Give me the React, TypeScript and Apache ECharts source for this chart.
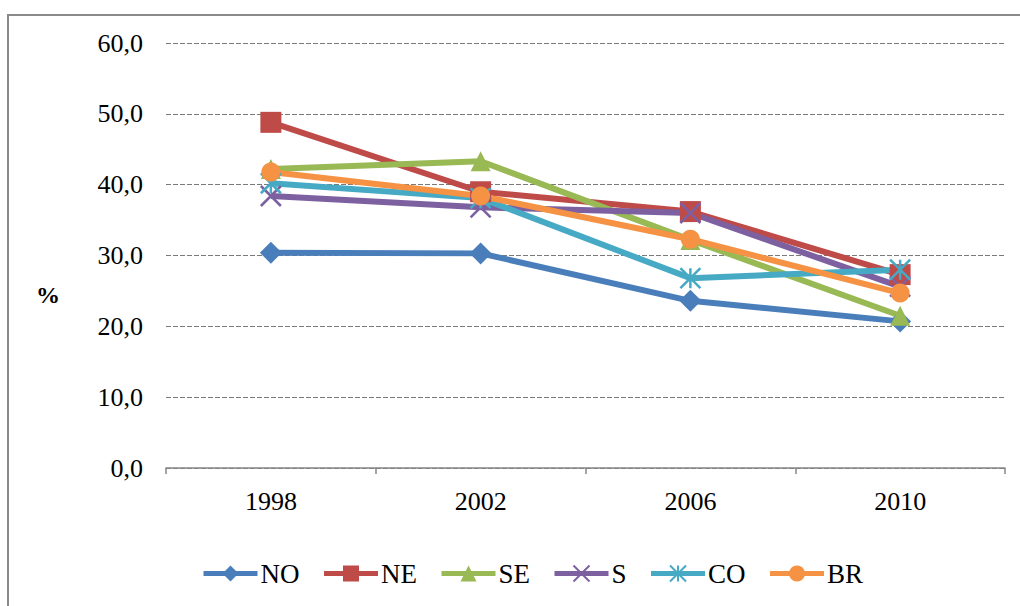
import React, { useEffect, useRef } from "react";
import * as echarts from "echarts";

const years = ["1998", "2002", "2006", "2010"];
const seriesNames = ["NO", "NE", "SE", "S", "CO", "BR"];
const valuesNO = [30.4, 30.3, 23.6, 20.7];
const valuesNE = [48.8, 39.0, 36.2, 27.3];
const valuesSE = [42.2, 43.3, 32.2, 21.5];
const valuesS = [38.4, 36.8, 36.0, 25.6];
const valuesCO = [40.2, 38.1, 26.8, 28.0];
const valuesBR = [41.8, 38.4, 32.3, 24.7];
const yTicks = [0, 10, 20, 30, 40, 50, 60];

const colors = ["#4A7EBB", "#BE4B48", "#98B954", "#7D60A0", "#46AAC5", "#F59243"];
const symbols = [
  "diamond",
  "rect",
  "triangle",
  "path://M0 0 L10 10 M10 0 L0 10",
  "path://M5 0 L5 10 M0 0 L10 10 M10 0 L0 10",
  "circle",
];
const sizes = [22, 21, 20, 20, 20, 19];
const stroked = [false, false, false, true, true, false];

const FONT = "Liberation Serif";

export default function App() {
  const ref = useRef<HTMLDivElement>(null);
  useEffect(() => {
    if (!ref.current) return;
    const chart = echarts.init(ref.current, undefined, { renderer: "svg" });
    const data = [valuesNO, valuesNE, valuesSE, valuesS, valuesCO, valuesBR];
    chart.setOption({
      animation: false,
      backgroundColor: "#ffffff",
      grid: { left: 166, right: 15, top: 43, bottom: 138, containLabel: false },
      legend: {
        bottom: 14,
        left: 196,
        itemWidth: 54,
        itemHeight: 20,
        itemGap: 22,
        lineStyle: { width: 5 },
        textStyle: { fontFamily: FONT, fontSize: 27, color: "#000", padding: [0, 0, 0, -2] },
        data: seriesNames,
      },
      xAxis: {
        type: "category",
        data: years,
        boundaryGap: true,
        axisLine: { lineStyle: { color: "#868686", width: 1.5 } },
        axisTick: { show: true, length: 6, lineStyle: { color: "#868686", width: 1.5 } },
        axisLabel: { fontFamily: FONT, fontSize: 26, color: "#000", margin: 20 },
        splitLine: { show: false },
      },
      yAxis: {
        type: "value",
        min: yTicks[0],
        max: yTicks[yTicks.length - 1],
        interval: 10,
        axisLine: { show: false },
        axisTick: { show: false },
        axisLabel: {
          fontFamily: FONT,
          fontSize: 26,
          color: "#000",
          margin: 23,
          formatter: (v: number) => v.toFixed(1).replace(".", ","),
        },
        splitLine: { lineStyle: { color: "#7a7a7a", width: 1.2, type: [5, 2] } },
      },
      graphic: [
        {
          type: "rect",
          shape: { x: 8, y: 15, width: 1100, height: 700 },
          style: { fill: "none", stroke: "#8a8a8a", lineWidth: 2 },
          silent: true,
        },
        {
          type: "text",
          x: 36,
          y: 283,
          style: { text: "%", fontFamily: FONT, fontSize: 24, fontWeight: "bold", fill: "#000" },
        },
      ],
      series: seriesNames.map((name, i) => ({
        name,
        type: "line",
        data: data[i],
        symbol: symbols[i],
        symbolSize: sizes[i],
        showAllSymbol: true,
        color: colors[i],
        lineStyle: { width: 6, color: colors[i] },
        itemStyle: {
          color: colors[i],
          borderColor: colors[i],
          borderWidth: stroked[i] ? 2.5 : 0,
        },
        emphasis: { disabled: true },
      })),
    });
    return () => chart.dispose();
  }, []);
  return (
    <div
      ref={ref}
      style={{ position: "fixed", left: 0, top: 0, width: 1020, height: 606, background: "#fff" }}
    />
  );
}
